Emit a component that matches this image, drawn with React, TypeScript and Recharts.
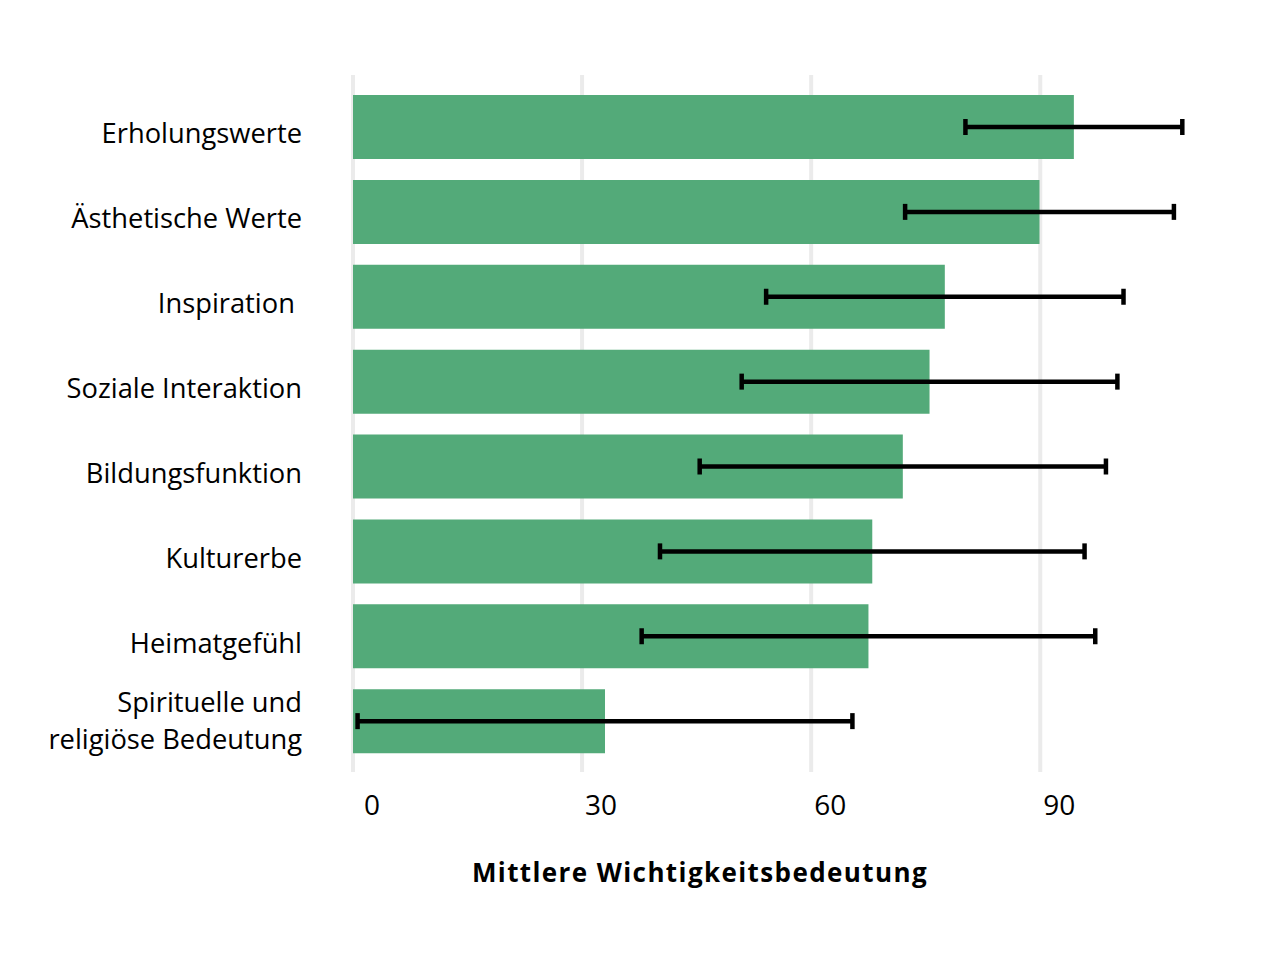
import React from "react";
import { BarChart, Bar, XAxis, YAxis, CartesianGrid, ErrorBar } from "recharts";

const categories = [
  "Erholungswerte",
  "Ästhetische Werte",
  "Inspiration ",
  "Soziale Interaktion",
  "Bildungsfunktion",
  "Kulturerbe",
  "Heimatgefühl",
  "Spirituelle und\nreligiöse Bedeutung",
];
const means = [94.4, 89.9, 77.5, 75.5, 72.0, 68.0, 67.5, 33.0];
const errors = [14.2, 17.6, 23.4, 24.6, 26.6, 27.8, 29.7, 32.4];
const xTicks = [0, 30, 60, 90];
const xTitle = "Mittlere Wichtigkeitsbedeutung";

const data = categories.map((c, i) => ({ name: c, mean: means[i], err: errors[i] }));

const FONT = "'Open Sans', sans-serif";

const YTick = (props: any) => {
  const { x, y, payload } = props;
  const lines = String(payload.value).split("\n");
  if (lines.length === 1) {
    return (
      <text x={x} y={y + 16} textAnchor="end" fontSize={27.3} fontFamily={FONT} fill="#000" style={{ whiteSpace: "pre" }}>
        {lines[0]}
      </text>
    );
  }
  return (
    <text x={x} y={y} textAnchor="end" fontSize={27.3} fontFamily={FONT} fill="#000" style={{ whiteSpace: "pre" }}>
      <tspan x={x} dy={-10}>{lines[0]}</tspan>
      <tspan x={x} dy={37.6}>{lines[1]}</tspan>
    </text>
  );
};

const XTick = (props: any) => {
  const { x, y, payload } = props;
  return (
    <text x={x + 19} y={y + 43} textAnchor="middle" fontSize={28} fontFamily={FONT} fill="#000">
      {payload.value}
    </text>
  );
};

export default function App() {
  return (
    <div style={{ position: "absolute", left: 0, top: 0, width: 1270, height: 979, background: "#fff" }}>
      <BarChart
        width={1270}
        height={979}
        data={data}
        layout="vertical"
        margin={{ top: 75, right: 77, bottom: 147, left: 13 }}
        barCategoryGap={0}
      >
        <CartesianGrid horizontal={false} vertical={true} stroke="#ebebeb" strokeWidth={4} syncWithTicks />
        <XAxis
          type="number"
          domain={[0, 110]}
          ticks={xTicks}
          axisLine={false}
          tickLine={false}
          tickSize={0}
          tickMargin={0}
          height={60}
          tick={<XTick />}
          interval={0}
        />
        <YAxis
          type="category"
          dataKey="name"
          width={340}
          axisLine={false}
          tickLine={false}
          tickSize={0}
          tickMargin={51}
          padding={{ top: 10, bottom: 8 }}
          tick={<YTick />}
          interval={0}
        />
        <Bar dataKey="mean" fill="#53aa79" barSize={64} isAnimationActive={false}>
          <ErrorBar dataKey="err" direction="x" width={8} strokeWidth={4.5} stroke="#000" isAnimationActive={false} />
        </Bar>
      </BarChart>
      <div
        style={{
          position: "absolute",
          left: 0,
          width: 1400,
          top: 857,
          textAlign: "center",
          fontFamily: FONT,
          fontWeight: 700,
          fontSize: 26,
          letterSpacing: 1.4,
          color: "#000",
          lineHeight: "30px",
        }}
      >
        {xTitle}
      </div>
    </div>
  );
}
